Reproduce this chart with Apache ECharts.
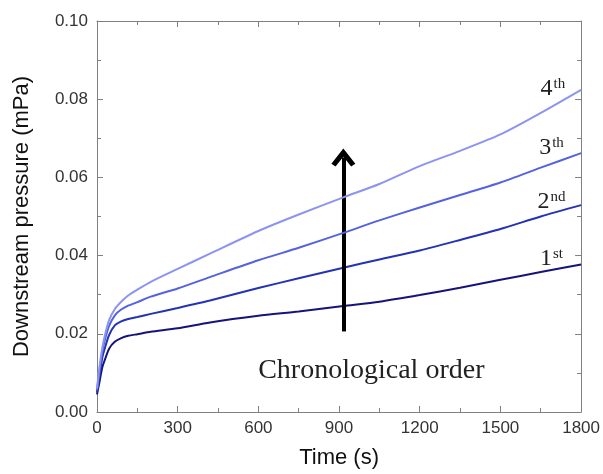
<!DOCTYPE html>
<html>
<head>
<meta charset="utf-8">
<script src="https://cdn.jsdelivr.net/npm/echarts@6/dist/echarts.min.js"></script>
<style>
  html, body { margin: 0; padding: 0; background: #fff; }
  #chart { width: 603px; height: 474px; }
</style>
</head>
<body>
<div id="chart"></div>
<script>
// time points (s)
const times = [0, 10, 20, 30, 45, 67, 90, 116, 150, 200, 300, 420, 600, 750, 916, 1050, 1200, 1350, 1500, 1650, 1800];

// downstream pressure (mPa), one run per series
const run1 = [0.0045, 0.008, 0.0115, 0.0135, 0.0162, 0.018, 0.0189, 0.0195, 0.0199, 0.0205, 0.0214, 0.0229, 0.0246, 0.0257, 0.0271, 0.0282, 0.0299, 0.0318, 0.0338, 0.0358, 0.0377];
const run2 = [0.005, 0.0095, 0.014, 0.0165, 0.0197, 0.0222, 0.0232, 0.0238, 0.0243, 0.0251, 0.0266, 0.0285, 0.0317, 0.0342, 0.0369, 0.039, 0.0413, 0.044, 0.0468, 0.05, 0.0529];
const run3 = [0.0055, 0.011, 0.0155, 0.0186, 0.022, 0.0248, 0.0262, 0.0272, 0.0281, 0.0295, 0.0316, 0.0345, 0.0388, 0.042, 0.0458, 0.049, 0.0523, 0.0555, 0.0587, 0.0625, 0.0662];
const run4 = [0.006, 0.012, 0.0165, 0.0198, 0.0235, 0.0264, 0.0282, 0.0298, 0.0313, 0.0333, 0.0366, 0.0405, 0.0463, 0.0505, 0.0549, 0.0583, 0.0629, 0.0668, 0.071, 0.0765, 0.0824];

const runNames = ['1st', '2nd', '3th', '4th'];
const runLabels = [['1', 'st'], ['2', 'nd'], ['3', 'th'], ['4', 'th']];
// where the run labels sit: [time, pressure]
const labelAt = [[1690, 0.0392], [1690, 0.0537], [1690, 0.0677], [1695, 0.0828]];
const colors = ['#14147a', '#2432b4', '#5462e2', '#8c94f0'];

// arrow "chronological order"
const arrowFrom = [916, 0.0206];
const arrowTo = [916, 0.0651];
const noteAt = [1020, 0.0105];
const noteText = 'Chronological order';

const xTicks = [0, 1800, 300];
const yTicks = [0, 0.1, 0.02];

const chart = echarts.init(document.getElementById('chart'));

const sans = 'Liberation Sans, Arial, sans-serif';
const serif = 'Liberation Serif, Times New Roman, serif';
const axisLine = { lineStyle: { color: '#808080', width: 1 } };
const tick = { inside: true, length: 6, lineStyle: { color: '#808080' } };
const minor = { show: true, splitNumber: 2, length: 4, lineStyle: { color: '#808080' } };

function pairs(ys) {
  return times.map((t, i) => [t, ys[i]]);
}

const runs = [run1, run2, run3, run4];
const series = runs.map((ys, i) => ({
  name: runNames[i],
  type: 'line',
  data: pairs(ys),
  showSymbol: false,
  smooth: 0.25,
  lineStyle: { color: colors[i], width: 2 },
  z: 3 + i,
  markPoint: {
    symbolSize: 0,
    silent: true,
    data: [{
      coord: labelAt[i],
      value: runLabels[i].join(''),
      label: {
        show: true,
        position: 'inside',
        formatter: '{b|' + runLabels[i][0] + '}{s|' + runLabels[i][1] + '}',
        rich: {
          b: { fontFamily: serif, fontSize: 24, color: '#222', verticalAlign: 'bottom', lineHeight: 24 },
          s: { fontFamily: serif, fontSize: 15, color: '#222', verticalAlign: 'top', lineHeight: 24, padding: [0, 0, 10, 1] },
        },
      },
    }],
  },
}));

// arrow + note
series.push({
  name: 'note',
  type: 'line',
  data: [],
  silent: true,
  markLine: {
    silent: true,
    symbol: ['none', 'path://M0,11 L10,0 L20,11 L16.5,13 L10,6 L3.5,13 Z'],
    symbolSize: [24, 18],
    label: { show: false },
    lineStyle: { color: '#000', width: 4, type: 'solid' },
    data: [[{ coord: arrowFrom }, { coord: arrowTo }]],
  },
  markPoint: {
    symbolSize: 0,
    silent: true,
    data: [{
      coord: noteAt,
      value: 0,
      label: { show: true, position: 'inside', formatter: noteText, fontFamily: serif, fontSize: 28, color: '#222' },
    }],
  },
});

const option = {
  animation: false,
  grid: { left: 97, right: 20, top: 21, bottom: 60, containLabel: false },
  xAxis: [
    {
      type: 'value',
      min: xTicks[0],
      max: xTicks[1],
      interval: xTicks[2],
      name: 'Time (s)',
      nameLocation: 'middle',
      nameGap: 35,
      nameTextStyle: { fontFamily: sans, fontSize: 22, color: '#111' },
      axisLine,
      axisTick: tick,
      minorTick: minor,
      splitLine: { show: false },
      axisLabel: { fontFamily: sans, fontSize: 17, color: '#333', margin: 8, formatter: v => String(v) },
    },
    {
      type: 'value',
      position: 'top',
      min: xTicks[0],
      max: xTicks[1],
      interval: xTicks[2],
      axisLine: { ...axisLine, onZero: false },
      axisTick: tick,
      minorTick: minor,
      splitLine: { show: false },
      axisLabel: { show: false },
    },
  ],
  yAxis: [
    {
      type: 'value',
      min: yTicks[0],
      max: yTicks[1],
      interval: yTicks[2],
      name: 'Downstream pressure (mPa)',
      nameLocation: 'middle',
      nameGap: 64,
      nameTextStyle: { fontFamily: sans, fontSize: 22, color: '#111' },
      axisLine: { ...axisLine, show: true },
      axisTick: tick,
      minorTick: minor,
      splitLine: { show: false },
      axisLabel: { fontFamily: sans, fontSize: 17, color: '#333', margin: 9, formatter: v => v.toFixed(2) },
    },
    {
      type: 'value',
      position: 'right',
      min: yTicks[0],
      max: yTicks[1],
      interval: yTicks[2],
      axisLine: { ...axisLine, show: true, onZero: false },
      axisTick: tick,
      minorTick: minor,
      splitLine: { show: false },
      axisLabel: { show: false },
    },
  ],
  series,
};

chart.setOption(option);
</script>
</body>
</html>
